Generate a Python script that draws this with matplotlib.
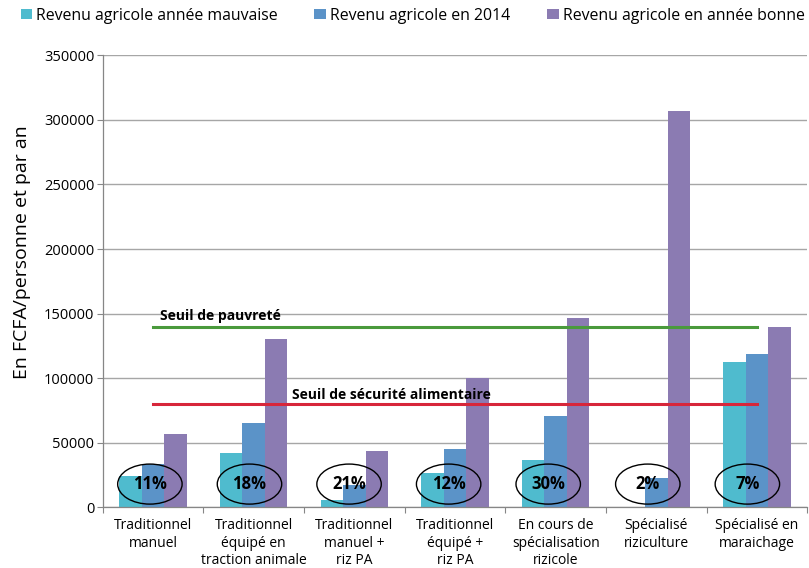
import matplotlib.pyplot as plt
from matplotlib.patches import Ellipse, Patch

plt.rcParams["font.family"] = ["Open Sans", "DejaVu Sans"]

# --- data ---
categories = [
    "Traditionnel\nmanuel",
    "Traditionnel\néquipé en\ntraction animale",
    "Traditionnel\nmanuel +\nriz PA",
    "Traditionnel\néquipé +\nriz PA",
    "En cours de\nspécialisation\nrizicole",
    "Spécialisé\nriziculture",
    "Spécialisé en\nmaraichage",
]
revenu_mauvaise = [24500, 41800, 5600, 26800, 36600, 0, 112500]
revenu_2014 = [33800, 65000, 17300, 44900, 70900, 22900, 118500]
revenu_bonne = [57000, 130500, 43800, 100000, 146600, 306900, 139600]
share_pct = ["11%", "18%", "21%", "12%", "30%", "2%", "7%"]

seuil_pauvrete = 140000
seuil_securite = 80000

series_names = [
    "Revenu agricole année mauvaise",
    "Revenu agricole en 2014",
    "Revenu agricole en année bonne",
]
colors = ["#4FBBCE", "#5B93C8", "#8B7BB2"]

fig = plt.figure(figsize=(8.09, 5.68), dpi=100)
ax = fig.add_axes([0.1268, 0.1068, 0.8712, 0.7958])

x = list(range(len(categories)))
w = 0.223
for k, vals in enumerate([revenu_mauvaise, revenu_2014, revenu_bonne]):
    ax.bar([i + (k - 1) * w for i in x], vals, width=w, color=colors[k],
           linewidth=0, zorder=2)

# threshold lines (one point per category, like the original line series)
ax.plot(x, [seuil_pauvrete] * len(x), color="#4A9A3C", lw=2.2, zorder=3)
ax.plot(x, [seuil_securite] * len(x), color="#D7263A", lw=2.2, zorder=3)
ax.text(0.07, 145300, "Seuil de pauvreté", fontsize=10, fontweight="bold",
        va="baseline", ha="left", zorder=4)
ax.text(1.384, 83500, "Seuil de sécurité alimentaire", fontsize=10,
        fontweight="bold", va="baseline", ha="left", zorder=4)

# circled shares
for i, pct in enumerate(share_pct):
    cx = -0.03 + 0.989 * i
    ax.add_patch(Ellipse((cx, 18000), 0.64, 31000, fill=False,
                         edgecolor="black", lw=1.0, zorder=4))
    ax.text(cx, 18000, pct, fontsize=12, fontweight="bold",
            ha="center", va="center", zorder=5)

# axes styling
ax.set_xlim(-0.5, len(categories) - 0.5)
ax.set_ylim(0, 350000)
ax.set_yticks(range(0, 350001, 50000))
ax.tick_params(axis="y", labelsize=10.5, length=4, width=0.8,
               color="#868686", pad=2)
ax.set_xticks(x)
ax.set_xticklabels(categories, fontsize=10, linespacing=1.2)
ax.tick_params(axis="x", length=0, pad=8)
ax.set_xticks([i - 0.5 for i in range(len(categories) + 1)], minor=True)
ax.tick_params(axis="x", which="minor", length=4, width=0.8, color="#868686")
ax.grid(axis="y", color="#A6A6A6", lw=1.0, zorder=0)
ax.set_axisbelow(True)
for side in ["top", "right"]:
    ax.spines[side].set_visible(False)
for side in ["left", "bottom"]:
    ax.spines[side].set_color("#868686")
    ax.spines[side].set_linewidth(0.9)

fig.text(0.027, 0.556, "En FCFA/personne et par an", rotation=90,
         fontsize=14, ha="center", va="center")

handles = [Patch(facecolor=c, edgecolor="none") for c in colors]
fig.legend(handles, series_names, loc="upper left", ncol=3,
           bbox_to_anchor=(20.5 / 809, 1 - 8 / 568), frameon=False,
           fontsize=11.4, handlelength=0.75, handleheight=0.6,
           handletextpad=0.25, columnspacing=2.3, borderpad=0,
           borderaxespad=0)

fig.savefig("out.png", dpi=100)
